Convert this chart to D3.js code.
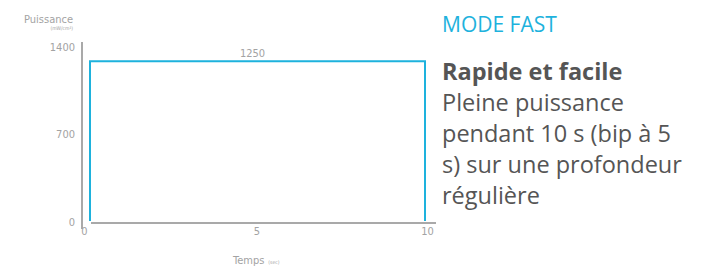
<!DOCTYPE html>
<html lang="fr">
<head>
<meta charset="UTF-8">
<title>Mode Fast</title>
<script src="https://d3js.org/d3.v7.min.js"></script>
<style>
  body { margin: 0; background: #fff; }
  svg text { font-family: "DejaVu Sans Condensed", "Liberation Sans Narrow", sans-serif; }
  .tick-label { font-size: 11px; fill: #a3a3a3; font-weight: 300; }
  .side { font-family: "Open Sans", sans-serif; }
</style>
</head>
<body>
<div id="chart"></div>
<script>
// Données du graphique
const timePoints = [0, 0, 10, 10];        // secondes
const powerValues = [0, 1250, 1250, 0];   // mW/cm²
const xTicks = [0, 5, 10];
const yTicks = [0, 700, 1400];
const peakLabel = "1250";
const textLines = [
  { text: "Rapide et facile", bold: true },
  { text: "Pleine puissance" },
  { text: "pendant 10 s (bip à 5" },
  { text: "s) sur une profondeur" },
  { text: "régulière" }
];

const width = 712, height = 268;
const blue = "#1eb2dd";
const axisGrey = "#8c8c8c";

const svg = d3.select('#chart').append('svg')
  .attr('width', width).attr('height', height);

const x = d3.scaleLinear().domain([0, 10]).range([90, 425]);
const y = d3.scaleLinear().domain([0, 1400]).range([221, 42]);

// Axes (lignes)
svg.append('line')
  .attr('x1', 82).attr('x2', 82)
  .attr('y1', y(1400)).attr('y2', y(0) + 8)
  .attr('stroke', axisGrey).attr('stroke-width', 1.5);
svg.append('line')
  .attr('x1', x(0) + 1).attr('x2', x(10) + 11)
  .attr('y1', y(0) + 2).attr('y2', y(0) + 2)
  .attr('stroke', axisGrey).attr('stroke-width', 1.5);

// Graduations
const yAxis = svg.append('g').attr('transform', 'translate(75,0)')
  .call(d3.axisLeft(y).tickValues(yTicks).tickFormat(d3.format('d')).tickSize(0).tickPadding(0));
yAxis.select('.domain').remove();
yAxis.attr('font-family', null);
yAxis.selectAll('text').attr('class', 'tick-label')
  .attr('dy', (d, i) => [0.4, 0.5, 0.8][i] + 'em');

const xAxis = svg.append('g').attr('transform', `translate(-1,${y(0) + 6})`)
  .call(d3.axisBottom(x).tickValues(xTicks).tickFormat(d3.format('d')).tickSize(0).tickPadding(0));
xAxis.select('.domain').remove();
xAxis.attr('font-family', null);
xAxis.selectAll('text').attr('class', 'tick-label')
  .attr('dx', (d, i) => [-5, 0, 3][i]);

// Courbe
const line = d3.line().x((d, i) => x(timePoints[i])).y(d => y(d));
svg.append('path')
  .datum(powerValues)
  .attr('d', line)
  .attr('fill', 'none')
  .attr('stroke', blue)
  .attr('stroke-width', 2);

svg.append('text')
  .attr('class', 'tick-label')
  .attr('x', x(5) - 5).attr('y', y(1250) - 4)
  .attr('text-anchor', 'middle')
  .text(peakLabel);

// Titres des axes
svg.append('text').attr('x', 73).attr('y', 23)
  .attr('text-anchor', 'end').attr('fill', '#a3a3a3')
  .style('font-size', '11px').style('font-weight', 300)
  .text('Puissance');
svg.append('text').attr('x', 73).attr('y', 30)
  .attr('text-anchor', 'end').attr('fill', '#a3a3a3')
  .style('font-size', '5px')
  .text('(mW/cm²)');
const tt = svg.append('text').attr('x', 233).attr('y', 264)
  .attr('fill', '#a3a3a3').style('font-size', '11px').style('font-weight', 300);
tt.append('tspan').text('Temps');
tt.append('tspan').attr('dx', 4).style('font-size', '5px').text('(sec)');

// Texte à droite
svg.append('text').attr('class', 'side')
  .attr('x', 442).attr('y', 32)
  .attr('fill', blue).style('font-size', '21px')
  .text('MODE FAST');

svg.selectAll('text.body')
  .data(textLines)
  .join('text')
  .attr('class', 'side body')
  .attr('x', 442)
  .attr('y', (d, i) => 80 + i * 31)
  .attr('fill', '#555')
  .style('font-size', '23.5px')
  .style('font-weight', d => d.bold ? 700 : 400)
  .text(d => d.text);
</script>
</body>
</html>
